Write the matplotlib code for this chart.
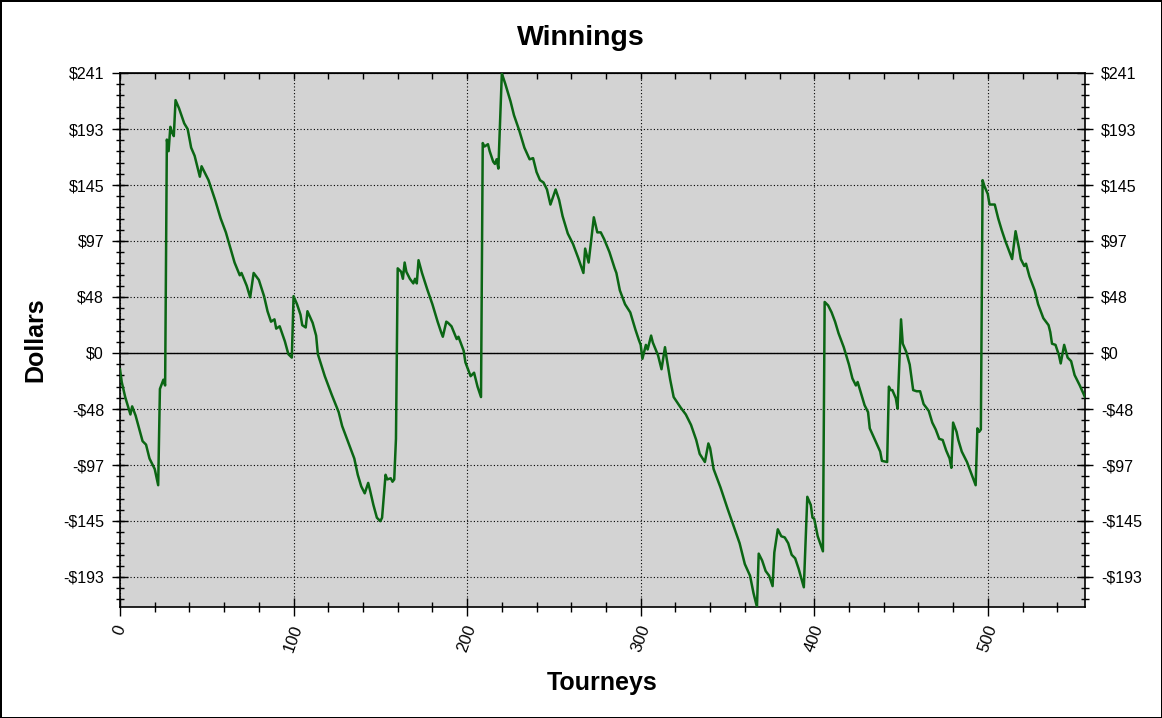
import matplotlib
matplotlib.use('Agg')
import matplotlib.pyplot as plt
from matplotlib.ticker import MultipleLocator

plt.rcParams['font.family'] = ['Liberation Sans', 'DejaVu Sans']

# tourney number and running winnings ($)
tourneys = [0, 1, 3, 6, 7, 9, 11, 13, 15, 17, 20, 22, 23, 25, 26, 27, 28, 29, 30, 31,
            32, 34, 37, 39, 41, 43, 46, 47, 51, 55, 58, 61, 66, 69, 70, 73, 75, 77, 80, 83,
            85, 87, 89, 90, 92, 95, 97, 99, 100, 102, 104, 105, 107, 108, 111, 113, 114, 118, 122, 126,
            128, 131, 135, 137, 139, 141, 143, 144, 146, 148, 150, 151, 153, 154, 156, 157, 158, 159, 160, 162,
            163, 164, 165, 167, 169, 170, 171, 172, 174, 177, 180, 183, 185, 186, 188, 189, 191, 194, 195, 198,
            199, 202, 204, 206, 208, 209, 210, 212, 213, 215, 216, 217, 218, 220, 222, 225, 227, 230, 233, 236,
            238, 240, 242, 244, 246, 248, 251, 253, 255, 258, 261, 264, 267, 268, 270, 273, 275, 277, 279, 282,
            285, 286, 288, 291, 294, 297, 299, 300, 301, 303, 304, 306, 307, 310, 312, 314, 315, 317, 319, 323,
            326, 329, 332, 334, 337, 339, 340, 342, 346, 350, 354, 357, 360, 363, 365, 367, 368, 370, 372, 374,
            376, 377, 379, 381, 383, 385, 387, 389, 391, 394, 396, 398, 399, 400, 402, 405, 406, 408, 410, 412,
            414, 417, 420, 422, 424, 425, 427, 429, 431, 432, 435, 438, 439, 442, 443, 444, 445, 447, 448, 450,
            451, 453, 455, 457, 459, 461, 463, 466, 468, 470, 472, 474, 476, 478, 479, 480, 482, 483, 485, 488,
            490, 493, 494, 495, 496, 497, 498, 500, 501, 504, 506, 508, 510, 514, 516, 518, 519, 521, 522, 524,
            527, 529, 532, 535, 536, 537, 539, 541, 542, 544, 546, 548, 550, 553, 556]
winnings = [-14, -25, -38, -53, -46, -54, -65, -76, -79, -91, -100, -114, -31, -23, -28, 184, 174, 195, 190, 187,
            218, 211, 198, 193, 177, 170, 152, 161, 149, 131, 116, 104, 78, 67, 69, 58, 48, 69, 63, 49,
            36, 27, 29, 21, 23, 10, -1, -4, 49, 42, 33, 24, 22, 36, 26, 15, -1, -20, -36, -51,
            -63, -75, -91, -105, -115, -121, -112, -118, -131, -142, -145, -142, -105, -109, -108, -111, -109, -74, 73, 70,
            64, 78, 70, 64, 60, 64, 60, 80, 69, 55, 42, 27, 18, 14, 27, 26, 23, 12, 14, 2,
            -8, -20, -17, -29, -38, 181, 178, 180, 174, 165, 163, 167, 159, 241, 232, 217, 205, 192, 177, 167,
            168, 156, 149, 147, 141, 128, 141, 132, 118, 103, 94, 82, 69, 90, 78, 117, 104, 104, 98, 87,
            73, 69, 54, 42, 35, 20, 11, 7, -5, 7, 3, 15, 9, -2, -14, 5, -5, -23, -38, -47,
            -53, -62, -75, -87, -94, -78, -82, -100, -116, -134, -151, -164, -182, -192, -207, -219, -173, -179, -188, -192,
            -201, -172, -152, -158, -159, -164, -174, -177, -186, -202, -124, -131, -142, -143, -158, -171, 44, 41, 35, 27,
            17, 5, -10, -22, -28, -25, -35, -45, -51, -65, -75, -85, -93, -94, -29, -32, -32, -39, -48, 29,
            8, 1, -10, -32, -33, -33, -44, -50, -60, -66, -74, -75, -84, -91, -99, -60, -68, -75, -85, -94,
            -102, -114, -65, -68, -66, 149, 144, 137, 128, 128, 116, 106, 97, 81, 105, 90, 81, 75, 77, 66,
            54, 42, 30, 24, 18, 8, 7, -2, -9, 7, -4, -7, -19, -28, -38]

ytick_vals = [241.4, 193.1, 144.8, 96.6, 48.3, 0, -48.3, -96.6, -144.8, -193.1]
ytick_labels = ['$241', '$193', '$145', '$97', '$48', '$0', '-$48', '-$97', '-$145', '-$193']
xtick_vals = [0, 100, 200, 300, 400, 500]

fig = plt.figure(figsize=(11.62, 7.18), dpi=100)
fig.patch.set_edgecolor('black')
fig.patch.set_linewidth(2)
ax = fig.add_axes([120 / 1162, 1 - 607 / 718, 965 / 1162, 534 / 718])
ax.set_facecolor('#d3d3d3')

ax.plot(tourneys, winnings, color='#0b6614', linewidth=1.8, zorder=3)
ax.axhline(0, color='black', linewidth=1, zorder=2)

ax.set_xlim(0, 556)
ax.set_ylim(-219, 241.4)

# y axis: labels on both sides
ax.set_yticks(ytick_vals)
ax.set_yticklabels(ytick_labels)
ax.yaxis.set_minor_locator(MultipleLocator(241.4 / 25))
ax.tick_params(axis='y', which='major', direction='inout', length=11, width=1,
               left=True, right=True, labelleft=True, labelright=True, labelsize=11.5, pad=6)
ax.tick_params(axis='y', which='minor', direction='inout', length=6, width=1,
               left=True, right=True)

# x axis: bottom labels rotated, small ticks on top
ax.set_xticks(xtick_vals)
ax.xaxis.set_minor_locator(MultipleLocator(20))
ax.tick_params(axis='x', which='major', direction='inout', length=13, width=1,
               labelsize=12, pad=5)
ax.tick_params(axis='x', which='minor', direction='inout', length=6.5, width=1)
for lab in ax.get_xticklabels():
    lab.set_rotation(70)
    lab.set_ha('center')

top = ax.secondary_xaxis('top')
top.set_xticks(list(range(0, 557, 20)))
top.tick_params(direction='in', length=4, width=1, labeltop=False)

ax.grid(True, which='major', color='black', linestyle=(0, (1, 2)), linewidth=0.8)

for sp in ax.spines.values():
    sp.set_linewidth(1.2)

fig.text(0.5, 1 - 38 / 718, 'Winnings', ha='center', va='center', fontsize=20.5, fontweight='bold')
fig.text(602 / 1162, 1 - 683 / 718, 'Tourneys', ha='center', va='center', fontsize=18, fontweight='bold')
fig.text(35 / 1162, 1 - 340 / 718, 'Dollars', ha='center', va='center', rotation=90,
         fontsize=18, fontweight='bold')

fig.savefig('out.png', dpi=100, edgecolor=fig.get_edgecolor())
